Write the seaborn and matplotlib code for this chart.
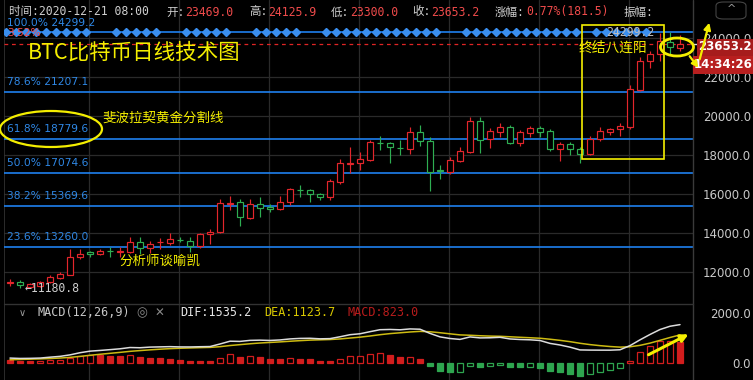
import matplotlib
matplotlib.use("Agg")
import matplotlib.pyplot as plt
import seaborn as sns
import numpy as np
import pandas as pd
from matplotlib.patches import Ellipse, Rectangle, FancyArrowPatch, FancyBboxPatch

sns.set_theme(style="dark")
plt.rcParams["font.family"] = ["DejaVu Sans", "Noto Sans CJK SC"]
plt.rcParams["axes.unicode_minus"] = False

# ---------------- data (daily candles, 2020-10-15 .. 2020-12-21) ----------------
opens = [11434, 11474, 11231, 11292, 11485, 11688, 11861, 12755, 13019, 12917,
         13090, 13039, 13019, 13532, 13224, 13506, 13480, 13648, 13582, 13326,
         13941, 14044, 15497, 15580, 14761, 15477, 15324, 15221, 15580, 16208,
         16194, 15989, 15836, 16604, 17529, 17577, 17730, 18616, 18600, 18362,
         18293, 19164, 18702, 17194, 17116, 17678, 18140, 19726, 18805, 19164,
         19420, 18600, 19112, 19368, 19214, 18293, 18549, 18293, 18037, 18805,
         19164, 19317, 19420, 21314, 22798, 23157, 23772, 23469.0]
highs = [11637, 11586, 11414, 11556, 11840, 11993, 13181, 13161, 13069, 13161,
         13273, 13273, 13770, 13788, 13567, 13720, 13992, 13770, 13788, 13974,
         14197, 15733, 15886, 15733, 15733, 15836, 15477, 15886, 16310, 16450,
         16245, 16056, 16767, 17781, 18396, 18140, 18754, 18958, 18652, 18754,
         19420, 19522, 18908, 17474, 17885, 18396, 19932, 19932, 19368, 19624,
         19520, 19256, 19470, 19470, 19317, 18652, 18652, 18393, 18958, 19420,
         19368, 19624, 21570, 23004, 23310, 24232, 24299.2, 24125.9]
lows = [11282, 11200, 11180.8, 11231, 11434, 11637, 11840, 12653, 12765, 12856,
        12765, 12765, 12958, 12917, 12968, 13161, 13378, 13516, 13011, 13212,
        13429, 13974, 15170, 14350, 14685, 14812, 15091, 15193, 15447, 15836,
        15580, 15701, 15701, 16501, 17064, 17218, 17682, 18242, 17577, 17986,
        18037, 18446, 16147, 16757, 17011, 17631, 18088, 18088, 18344, 18908,
        18545, 18443, 18908, 18908, 18190, 17678, 17986, 17577, 17986, 18702,
        19002, 18951, 19317, 21262, 22440, 22798, 23157, 23300.0]
closes = [11464, 11312, 11373, 11474, 11739, 11891, 12763, 12917, 12917, 13069,
          13059, 13069, 13532, 13224, 13429, 13537, 13685, 13618, 13326, 13941,
          14044, 15528, 15548, 14812, 15477, 15272, 15221, 15580, 16245, 16178,
          15989, 15836, 16654, 17577, 17590, 17781, 18652, 18586, 18396, 18332,
          19164, 18702, 17116, 17163, 17730, 18190, 19726, 18754, 19214, 19420,
          18600, 19164, 19368, 19164, 18293, 18549, 18293, 18037, 18805, 19214,
          19317, 19470, 21365, 22798, 23157, 23822, 23516, 23653.2]

# MACD(12,26,9) values
macd_hist = [133, 80, 67, 67, 107, 133, 200, 293, 333, 307,
             293, 285, 307, 227, 220, 187, 160, 107, 80, 75,
             67, 213, 347, 260, 270, 227, 160, 155, 187, 180,
             147, 80, 72, 173, 267, 270, 347, 400, 333, 240,
             245, 173, -133, -333, -373, -360, -133, -173, -133, -80,
             -173, -178, -165, -180, -333, -373, -440, -533, -440, -360,
             -293, -213, 93, 440, 693, 867, 900, 823.0]
dif = [197, 182, 186, 197, 233, 265, 325, 411, 474, 502,
       534, 568, 619, 610, 636, 645, 654, 643, 642, 651,
       658, 760, 872, 864, 905, 914, 902, 922, 963, 984,
       989, 967, 975, 1049, 1132, 1169, 1253, 1332, 1342, 1328,
       1363, 1351, 1184, 1045, 980, 944, 1043, 1004, 1009, 1028,
       962, 940, 928, 900, 784, 720, 634, 523, 516, 514,
       513, 529, 695, 926, 1141, 1339, 1470, 1535.2]
dea = [130, 142, 153, 164, 179, 198, 225, 264, 308, 349,
       387, 425, 466, 497, 526, 552, 574, 590, 602, 614,
       624, 653, 699, 734, 770, 800, 822, 844, 870, 894,
       915, 927, 939, 962, 998, 1034, 1080, 1132, 1176, 1208,
       1241, 1265, 1250, 1211, 1167, 1124, 1110, 1090, 1076, 1068,
       1049, 1029, 1010, 990, 951, 906, 854, 789, 736, 694,
       659, 635, 649, 706, 795, 906, 1020, 1123.7]

fib_pcts = ["100.0%", "78.6%", "61.8%", "50.0%", "38.2%", "23.6%"]
fib_levels = [24299.2, 21207.1, 18779.6, 17074.6, 15369.6, 13260.0]
price_ticks = [12000, 14000, 16000, 18000, 20000, 22000, 24000]
macd_ticks = [0, 2000]
diamond_idx = [1, 2, 3, 4, 5, 6, 7, 8, 9, 12, 13, 14, 15, 16, 19, 20, 21, 22, 23,
               26, 27, 28, 29, 30, 33, 34, 35, 36, 37, 38, 39, 40, 41, 42, 43, 44,
               47, 48, 49, 50, 51, 52, 53, 54, 55, 56, 57, 58, 60, 61, 62, 63, 64, 65]
last_close = 23653.2
low_label = "←11180.8"

header = [("时间:2020-12-21 08:00", "#cfcfcf"), ("开:", "#cfcfcf"), ("23469.0", "#ef4b4b"),
          ("高:", "#cfcfcf"), ("24125.9", "#ef4b4b"), ("低:", "#cfcfcf"), ("23300.0", "#ef4b4b"),
          ("收:", "#cfcfcf"), ("23653.2", "#ef4b4b"), ("涨幅:", "#cfcfcf"),
          ("0.77%(181.5)", "#ef4b4b"), ("振幅:", "#cfcfcf")]
header_x = [9, 166, 185, 249, 268, 331, 350, 412, 431, 495, 526, 624]

# ---------------- styling ----------------
RED = "#e3262c"
GREEN = "#2eae52"
MRED = "#d21d1d"
MGREEN = "#2ea54f"
BLUE = "#1f80ee"
BLUE_TXT = "#2f88e6"
YEL = "#f4ee00"
GRID = "#2a2a2a"
AXTXT = "#c9c9c9"
MONO = ["DejaVu Sans Mono", "Noto Sans CJK SC"]
CJK = ["Noto Sans CJK SC", "DejaVu Sans"]

W, H = 753, 380
fig = plt.figure(figsize=(W / 100, H / 100), dpi=100, facecolor="black")


def fx(x):
    return x / W


def fy(y):
    return 1 - y / H


ax = fig.add_axes([fx(4), fy(303), (693 - 4) / W, 303 / H])
mx = fig.add_axes([fx(4), 0, (693 - 4) / W, 77 / H])
for a in (ax, mx):
    a.set_facecolor("black")
    for s in a.spines.values():
        s.set_visible(False)
    a.grid(False)
    a.set_xticks([])
    a.set_xlim(0.4, 69.3)

ax.set_ylim(10408.2, 25921.8)
mx.set_ylim(-680, 2400)

idx = np.arange(1, len(opens) + 1)
o = np.array(opens, float)
c = np.array(closes, float)
h = np.array(highs, float)
l = np.array(lows, float)

# grid
for gx in [8.9, 17.9, 26.9, 35.9, 44.9, 53.9, 62.9]:
    ax.axvline(gx, color=GRID, lw=0.9, zorder=0)
    mx.axvline(gx, color=GRID, lw=0.9, zorder=0)
for gy in price_ticks:
    ax.axhline(gy, color=GRID, lw=0.9, zorder=0)
ax.axvline(0.4, color="#333333", lw=1.2, zorder=0)
mx.axvline(0.4, color="#333333", lw=1.2, zorder=0)

# fibonacci lines
for p, lv in zip(fib_pcts, fib_levels):
    ax.axhline(lv, color=BLUE, lw=1.2, zorder=1)
    off = 6.2 if lv == fib_levels[0] else 7.4
    ax.annotate(f"{p} {lv:.1f}", xy=(0.7, lv), xytext=(0, off), textcoords="offset points",
                va="center", ha="left", color=BLUE_TXT, fontsize=7.7, zorder=5)
ax.plot(np.array(diamond_idx) - 0.4, [fib_levels[0]] * len(diamond_idx), ls="none",
        marker="D", ms=4.2, color="#3a8ff0", zorder=2)

# close price dashed line
ax.axhline(last_close, color="#e02525", lw=0.9, ls=(0, (3, 3)), zorder=2)

# candles
up = c >= o
cols = np.where(up, RED, GREEN)
blo = np.minimum(o, c)
bhi = np.maximum(o, c)
hgt = np.maximum(bhi - blo, 15)
ax.bar(idx, hgt, bottom=blo, width=0.66, facecolor="black", edgecolor=cols, linewidth=0.85, zorder=4)
ax.vlines(idx, l, blo, colors=cols, lw=0.85, zorder=3)
ax.vlines(idx, bhi, h, colors=cols, lw=0.85, zorder=3)

# right axis labels
ax.set_yticks(price_ticks)
ax.set_yticklabels([f"{t:.1f}" for t in price_ticks])
ax.yaxis.tick_right()
ax.tick_params(axis="y", length=0, pad=7.2, labelcolor=AXTXT, labelsize=8.5)

# MACD panel
mv = np.array(macd_hist, float)
prev = np.concatenate([[np.inf], mv[:-1]])
filled = mv < prev
edge = np.where(mv >= 0, MRED, MGREEN)
face = [e if f else "black" for e, f in zip(edge, filled)]
mx.bar(idx, mv, width=0.66, color=face, edgecolor=edge, linewidth=0.9, zorder=3)
df = pd.DataFrame({"i": idx, "DIF": dif, "DEA": dea})
sns.lineplot(data=df, x="i", y="DEA", ax=mx, color="#cdbb12", lw=1.1, zorder=4)
sns.lineplot(data=df, x="i", y="DIF", ax=mx, color="#dcdcdc", lw=1.1, zorder=4)
mx.set_xlabel("")
mx.set_ylabel("")
mx.set_xlim(0.4, 69.3)
mx.set_ylim(-680, 2400)
mx.set_yticks(macd_ticks)
mx.set_yticklabels(["0.0", "2000.0"])
mx.yaxis.tick_right()
mx.tick_params(axis="y", length=0, pad=41.8, labelcolor=AXTXT, labelsize=8.5)
for t in mx.get_yticklabels():
    t.set_horizontalalignment("right")

# frame lines
fig.add_artist(plt.Line2D([fx(693), fx(693)], [0, 1], color="#3a3a3a", lw=1.0))
fig.add_artist(plt.Line2D([fx(4), fx(693)], [fy(303.5), fy(303.5)], color="#333333", lw=1.0))


def T(x, y, s, **kw):
    kw.setdefault("va", "center")
    kw.setdefault("ha", "left")
    fig.text(fx(x), fy(y), s, **kw)


# header
for (s, col), x in zip(header, header_x):
    T(x, 12, s, color=col, fontsize=8.3, family=MONO)
T(7, 33, "3.52%", color="#ef4b4b", fontsize=7.7, zorder=6)
fig.add_artist(FancyBboxPatch((fx(716), fy(19)), fx(30), 17 / H, boxstyle="round,pad=0,rounding_size=0.01",
                              transform=fig.transFigure, fc="black", ec="#444444", lw=0.8))
T(731, 9, "^", color="#9a9a9a", fontsize=8, ha="center")

# price tags
fig.add_artist(Rectangle((fx(697), fy(56)), 56 / W, 17 / H, transform=fig.transFigure,
                         fc="#a61c1c", ec="none", zorder=5))
T(725, 47, "23653.2", color="white", fontsize=8.5, weight="bold", ha="center", zorder=6)
fig.add_artist(Rectangle((fx(693), fy(74)), 60 / W, 18 / H, transform=fig.transFigure,
                         fc="#b81f1f", ec="none", zorder=5))
T(723, 65, "14:34:26", color="white", fontsize=8.5, weight="bold", ha="center", zorder=6)
fig.add_artist(plt.Line2D([fx(693), fx(698)], [fy(44.3), fy(44.3)], color="#dddddd", lw=1))

# other labels
T(606, 32, "24299.2", color="#bdbdbd", fontsize=8.3, family=MONO)
T(25, 288, low_label, color="#cfcfcf", fontsize=8.3, family=MONO)

# annotations (yellow)
T(28, 53, "BTC比特币日线技术图", color=YEL, fontsize=15.5, family=CJK)
T(102, 118, "斐波拉契黄金分割线", color=YEL, fontsize=9.7, family=CJK)
T(119, 261, "分析师谈喻凯", color=YEL, fontsize=9.7, family=CJK)
T(579, 48, "终结八连阳", color=YEL, fontsize=9.9, family=CJK)
fig.add_artist(Ellipse((fx(51), fy(129)), 102 / W, 36 / H, transform=fig.transFigure,
                       fill=False, ec=YEL, lw=1.6, zorder=6))
fig.add_artist(Rectangle((fx(582), fy(159)), 82 / W, 134 / H, transform=fig.transFigure,
                         fill=False, ec=YEL, lw=1.2, zorder=6))
fig.add_artist(Ellipse((fx(677), fy(47)), 33 / W, 18 / H, transform=fig.transFigure,
                       fill=False, ec=YEL, lw=2.0, zorder=6))
fig.add_artist(FancyArrowPatch((fx(699), fy(62)), (fx(710), fy(20)), transform=fig.transFigure,
                               arrowstyle="-|>", mutation_scale=10, color=YEL, lw=1.6, zorder=7))
fig.add_artist(FancyArrowPatch((fx(688), fy(54)), (fx(700), fy(70)), transform=fig.transFigure,
                               arrowstyle="-|>", mutation_scale=9, color=YEL, lw=1.6, zorder=7))
fig.add_artist(FancyArrowPatch((fx(646), fy(356)), (fx(691), fy(333)), transform=fig.transFigure,
                               arrowstyle="-|>", mutation_scale=11, color=YEL, lw=2.2, zorder=7))

# MACD header
T(19, 313, "∨", color="#9a9a9a", fontsize=7)
T(37, 313, "MACD(12,26,9)", color="#c8c8c8", fontsize=8.5, family=MONO)
T(136, 313, "◎", color="#8a8a8a", fontsize=9)
T(155, 313, "✕", color="#8a8a8a", fontsize=8.5)
T(180, 313, "DIF:1535.2", color="#e6e6e6", fontsize=8.5, family=MONO)
T(264, 313, "DEA:1123.7", color="#d9c800", fontsize=8.5, family=MONO)
T(348, 313, "MACD:823.0", color="#b81c1c", fontsize=8.5, family=MONO)

fig.savefig("out.png", dpi=100, facecolor="black")
